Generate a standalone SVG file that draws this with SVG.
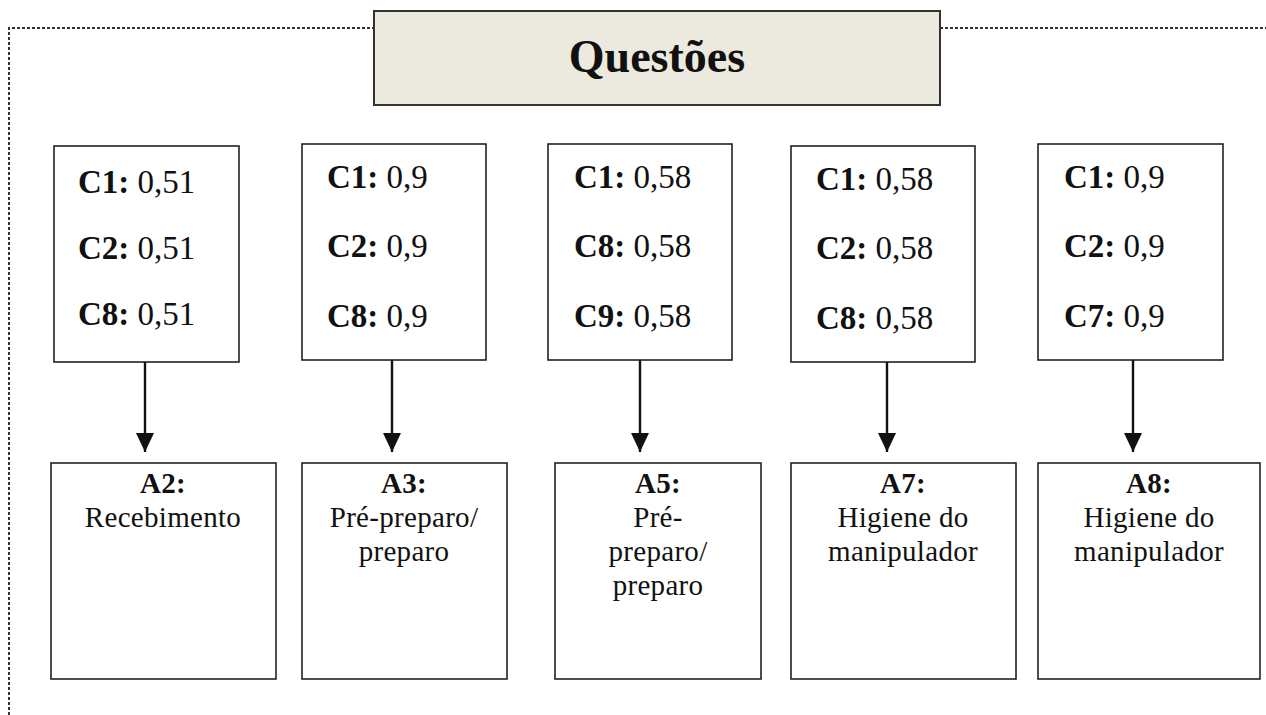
<svg xmlns="http://www.w3.org/2000/svg" width="1266" height="715" viewBox="0 0 1266 715">
<defs>
<style>
.frame{fill:none;stroke:#333;stroke-width:2;stroke-dasharray:3 2}
.box{fill:#fff;stroke:#222;stroke-width:1.6}
.title{fill:#ECE9DE;stroke:#333;stroke-width:2}
.t{font-family:"Liberation Serif","Times New Roman",serif;fill:#111}
.up{font-size:33px}
.lo{font-size:29px;text-anchor:middle;letter-spacing:0.3px}
.b{font-weight:bold}
.conn line{stroke:#111;stroke-width:2.4}
</style>
<marker id="ah" viewBox="0 0 19 18" refX="19" refY="9" markerWidth="19" markerHeight="18" markerUnits="userSpaceOnUse" orient="auto">
<path d="M0,0 L19,9 L0,18 z" fill="#111"/>
</marker>
</defs>
<rect width="1266" height="715" fill="#fff"/>
<path class="frame" d="M9,715 L9,28 L374,28 M940,28 L1266,28"/>
<g id="title">
<rect class="title" x="374" y="11" width="566" height="94"/>
<text class="t b" x="657" y="72" font-size="46" text-anchor="middle">Questões</text>
</g>
<g id="c1">
<rect class="box" x="54" y="146" width="185" height="216"/>
<text class="t up" x="78" y="193"><tspan class="b">C1:</tspan> 0,51</text>
<text class="t up" x="78" y="259"><tspan class="b">C2:</tspan> 0,51</text>
<text class="t up" x="78" y="325"><tspan class="b">C8:</tspan> 0,51</text>
</g>
<g id="c2">
<rect class="box" x="302" y="144" width="184" height="216"/>
<text class="t up" x="327" y="188"><tspan class="b">C1:</tspan> 0,9</text>
<text class="t up" x="327" y="257"><tspan class="b">C2:</tspan> 0,9</text>
<text class="t up" x="327" y="327"><tspan class="b">C8:</tspan> 0,9</text>
</g>
<g id="c3">
<rect class="box" x="548" y="144" width="184" height="216"/>
<text class="t up" x="574" y="188"><tspan class="b">C1:</tspan> 0,58</text>
<text class="t up" x="574" y="257"><tspan class="b">C8:</tspan> 0,58</text>
<text class="t up" x="574" y="327"><tspan class="b">C9:</tspan> 0,58</text>
</g>
<g id="c4">
<rect class="box" x="791" y="146" width="184" height="216"/>
<text class="t up" x="816" y="190"><tspan class="b">C1:</tspan> 0,58</text>
<text class="t up" x="816" y="259"><tspan class="b">C2:</tspan> 0,58</text>
<text class="t up" x="816" y="329"><tspan class="b">C8:</tspan> 0,58</text>
</g>
<g id="c5">
<rect class="box" x="1038" y="144" width="185" height="216"/>
<text class="t up" x="1064" y="188"><tspan class="b">C1:</tspan> 0,9</text>
<text class="t up" x="1064" y="257"><tspan class="b">C2:</tspan> 0,9</text>
<text class="t up" x="1064" y="327"><tspan class="b">C7:</tspan> 0,9</text>
</g>
<g id="a2">
<rect class="box" x="51" y="463" width="225" height="216"/>
<text class="t lo b" x="163" y="493">A2:</text>
<text class="t lo" x="163" y="527">Recebimento</text>
</g>
<g id="a3">
<rect class="box" x="302" y="463" width="205" height="216"/>
<text class="t lo b" x="404" y="493">A3:</text>
<text class="t lo" x="404" y="527">Pré-preparo/</text>
<text class="t lo" x="404" y="561">preparo</text>
</g>
<g id="a5">
<rect class="box" x="555" y="463" width="206" height="216"/>
<text class="t lo b" x="658" y="493">A5:</text>
<text class="t lo" x="658" y="527">Pré-</text>
<text class="t lo" x="658" y="561">preparo/</text>
<text class="t lo" x="658" y="595">preparo</text>
</g>
<g id="a7">
<rect class="box" x="791" y="463" width="225" height="216"/>
<text class="t lo b" x="903" y="493">A7:</text>
<text class="t lo" x="903" y="527">Higiene do</text>
<text class="t lo" x="903" y="561">manipulador</text>
</g>
<g id="a8">
<rect class="box" x="1038" y="463" width="222" height="216"/>
<text class="t lo b" x="1149" y="493">A8:</text>
<text class="t lo" x="1149" y="527">Higiene do</text>
<text class="t lo" x="1149" y="561">manipulador</text>
</g>
<g id="connectors" class="conn">
<line x1="145" y1="362" x2="145" y2="452" marker-end="url(#ah)"/>
<line x1="392" y1="360" x2="392" y2="452" marker-end="url(#ah)"/>
<line x1="640" y1="360" x2="640" y2="452" marker-end="url(#ah)"/>
<line x1="887" y1="362" x2="887" y2="452" marker-end="url(#ah)"/>
<line x1="1133" y1="360" x2="1133" y2="452" marker-end="url(#ah)"/>
</g>
</svg>
